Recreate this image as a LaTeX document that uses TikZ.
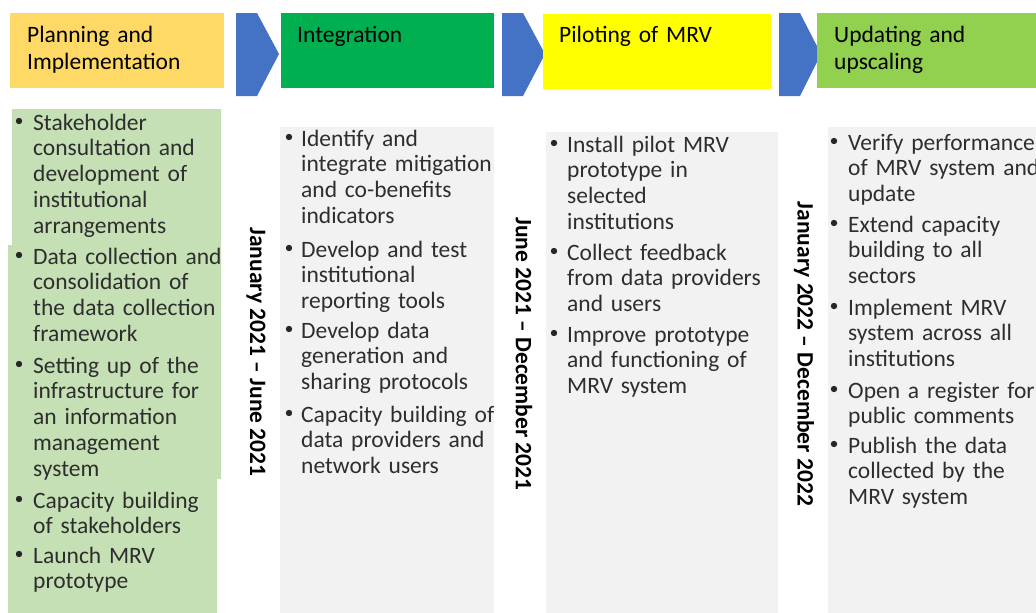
\documentclass[tikz,border=0pt]{standalone}
\usepackage{fontspec}
\setmainfont{Carlito}
\definecolor{hdrorange}{HTML}{FFD966}
\definecolor{hdrgreen}{HTML}{00B050}
\definecolor{hdryellow}{HTML}{FFFF00}
\definecolor{hdrlime}{HTML}{92D050}
\definecolor{chevblue}{HTML}{4472C4}
\definecolor{palegreen}{HTML}{C5E0B4}
\definecolor{palegray}{HTML}{F2F2F2}
\tikzset{
  hdrtxt/.style={anchor=base west, inner sep=0pt, text width=220pt, align=left,
    font=\fontsize{23.5}{27}\selectfont, text=black},
  itemtxt/.style={anchor=base west, inner sep=0pt, text width=240pt, align=left,
    font=\fontsize{23.5}{25.8}\selectfont, text=black!82},
  bul/.style={circle, fill=black!85, inner sep=0pt, minimum size=6.4pt},
  datetxt/.style={rotate=-90, inner sep=0pt, font=\bfseries\fontsize{23.5}{27}\selectfont, text=black},
  chev/.style={fill=chevblue}
}
\begin{document}
\begin{tikzpicture}[x=1pt,y=-1pt]
\clip (0,0) rectangle (1036,613);
\fill[white] (0,0) rectangle (1036,613);
% chevrons
\fill[chev] (236,13) -- (257,13) -- (279,54) -- (257,96) -- (236,96) -- cycle;
\fill[chev] (502,13) -- (523,13) -- (545,54) -- (523,96) -- (502,96) -- cycle;
\fill[chev] (779,13) -- (800,13) -- (821,54) -- (800,96) -- (779,96) -- cycle;
% header boxes
\fill[hdrorange] (10,13) rectangle (224,88);
\fill[hdrgreen] (281,13) rectangle (494,88);
\fill[hdryellow] (543,14) rectangle (771,89);
\fill[hdrlime] (817,13) rectangle (1040,88);
% body panels
\fill[palegreen] (12,109) -- (221,109) -- (221,479) -- (217,479) -- (217,613)
  -- (8,613) -- (8,245) -- (12,245) -- cycle;
\fill[palegray] (280,127) rectangle (494,613);
\fill[palegray] (546,132) rectangle (778,613);
\fill[palegray] (828,127) rectangle (1040,613);
% header texts
\node[hdrtxt] (h1) at (27,42) {Planning and\\Implementation};
\node[hdrtxt] (h2) at (297,42) {Integration};
\node[hdrtxt] (h3) at (559,42) {Piloting of MRV};
\node[hdrtxt] (h4) at (834,42) {Updating and\\upscaling};
% dates
\node[datetxt] (d1) at (256,352) {January 2021 – June 2021};
\node[datetxt] (d2) at (524,354) {June 2021 – December 2021};
\node[datetxt] (d3) at (804,354) {January 2022 – December 2022};
% column 1
\node[itemtxt] (a1) at (33,130) {Stakeholder\\consultation and\\development of\\institutional\\arrangements};
\node[itemtxt] (a2) at (33,264) {Data collection and\\consolidation of\\the data collection\\framework};
\node[itemtxt] (a3) at (33,373) {Setting up of the\\infrastructure for\\an information\\management\\system};
\node[itemtxt] (a4) at (33,508) {Capacity building\\of stakeholders};
\node[itemtxt] (a5) at (33,563) {Launch MRV\\prototype};
\node[bul] (ba1) at (19,121) {};
\node[bul] (ba2) at (19,255) {};
\node[bul] (ba3) at (19,364) {};
\node[bul] (ba4) at (19,499) {};
\node[bul] (ba5) at (19,554) {};
% column 2
\node[itemtxt] (b1) at (301,146) {Identify and\\integrate mitigation\\and co-benefits\\indicators};
\node[itemtxt] (b2) at (301,257) {Develop and test\\institutional\\reporting tools};
\node[itemtxt] (b3) at (301,338) {Develop data\\generation and\\sharing protocols};
\node[itemtxt] (b4) at (301,422) {Capacity building of\\data providers and\\network users};
\node[bul] (bb1) at (289,137) {};
\node[bul] (bb2) at (289,248) {};
\node[bul] (bb3) at (289,329) {};
\node[bul] (bb4) at (289,413) {};
% column 3
\node[itemtxt] (c1) at (567,152) {Install pilot MRV\\prototype in\\selected\\institutions};
\node[itemtxt] (c2) at (567,260) {Collect feedback\\from data providers\\and users};
\node[itemtxt] (c3) at (567,342) {Improve prototype\\and functioning of\\MRV system};
\node[bul] (bc1) at (554,143) {};
\node[bul] (bc2) at (554,251) {};
\node[bul] (bc3) at (554,333) {};
% column 4
\node[itemtxt] (e1) at (848,150) {Verify performance\\of MRV system and\\update};
\node[itemtxt] (e2) at (848,232) {Extend capacity\\building to all\\sectors};
\node[itemtxt] (e3) at (848,315) {Implement MRV\\system across all\\institutions};
\node[itemtxt] (e4) at (848,398) {Open a register for\\public comments};
\node[itemtxt] (e5) at (848,453) {Publish the data\\collected by the\\MRV system};
\node[bul] (be1) at (834,141) {};
\node[bul] (be2) at (834,223) {};
\node[bul] (be3) at (834,306) {};
\node[bul] (be4) at (834,389) {};
\node[bul] (be5) at (834,444) {};
\end{tikzpicture}
\end{document}
